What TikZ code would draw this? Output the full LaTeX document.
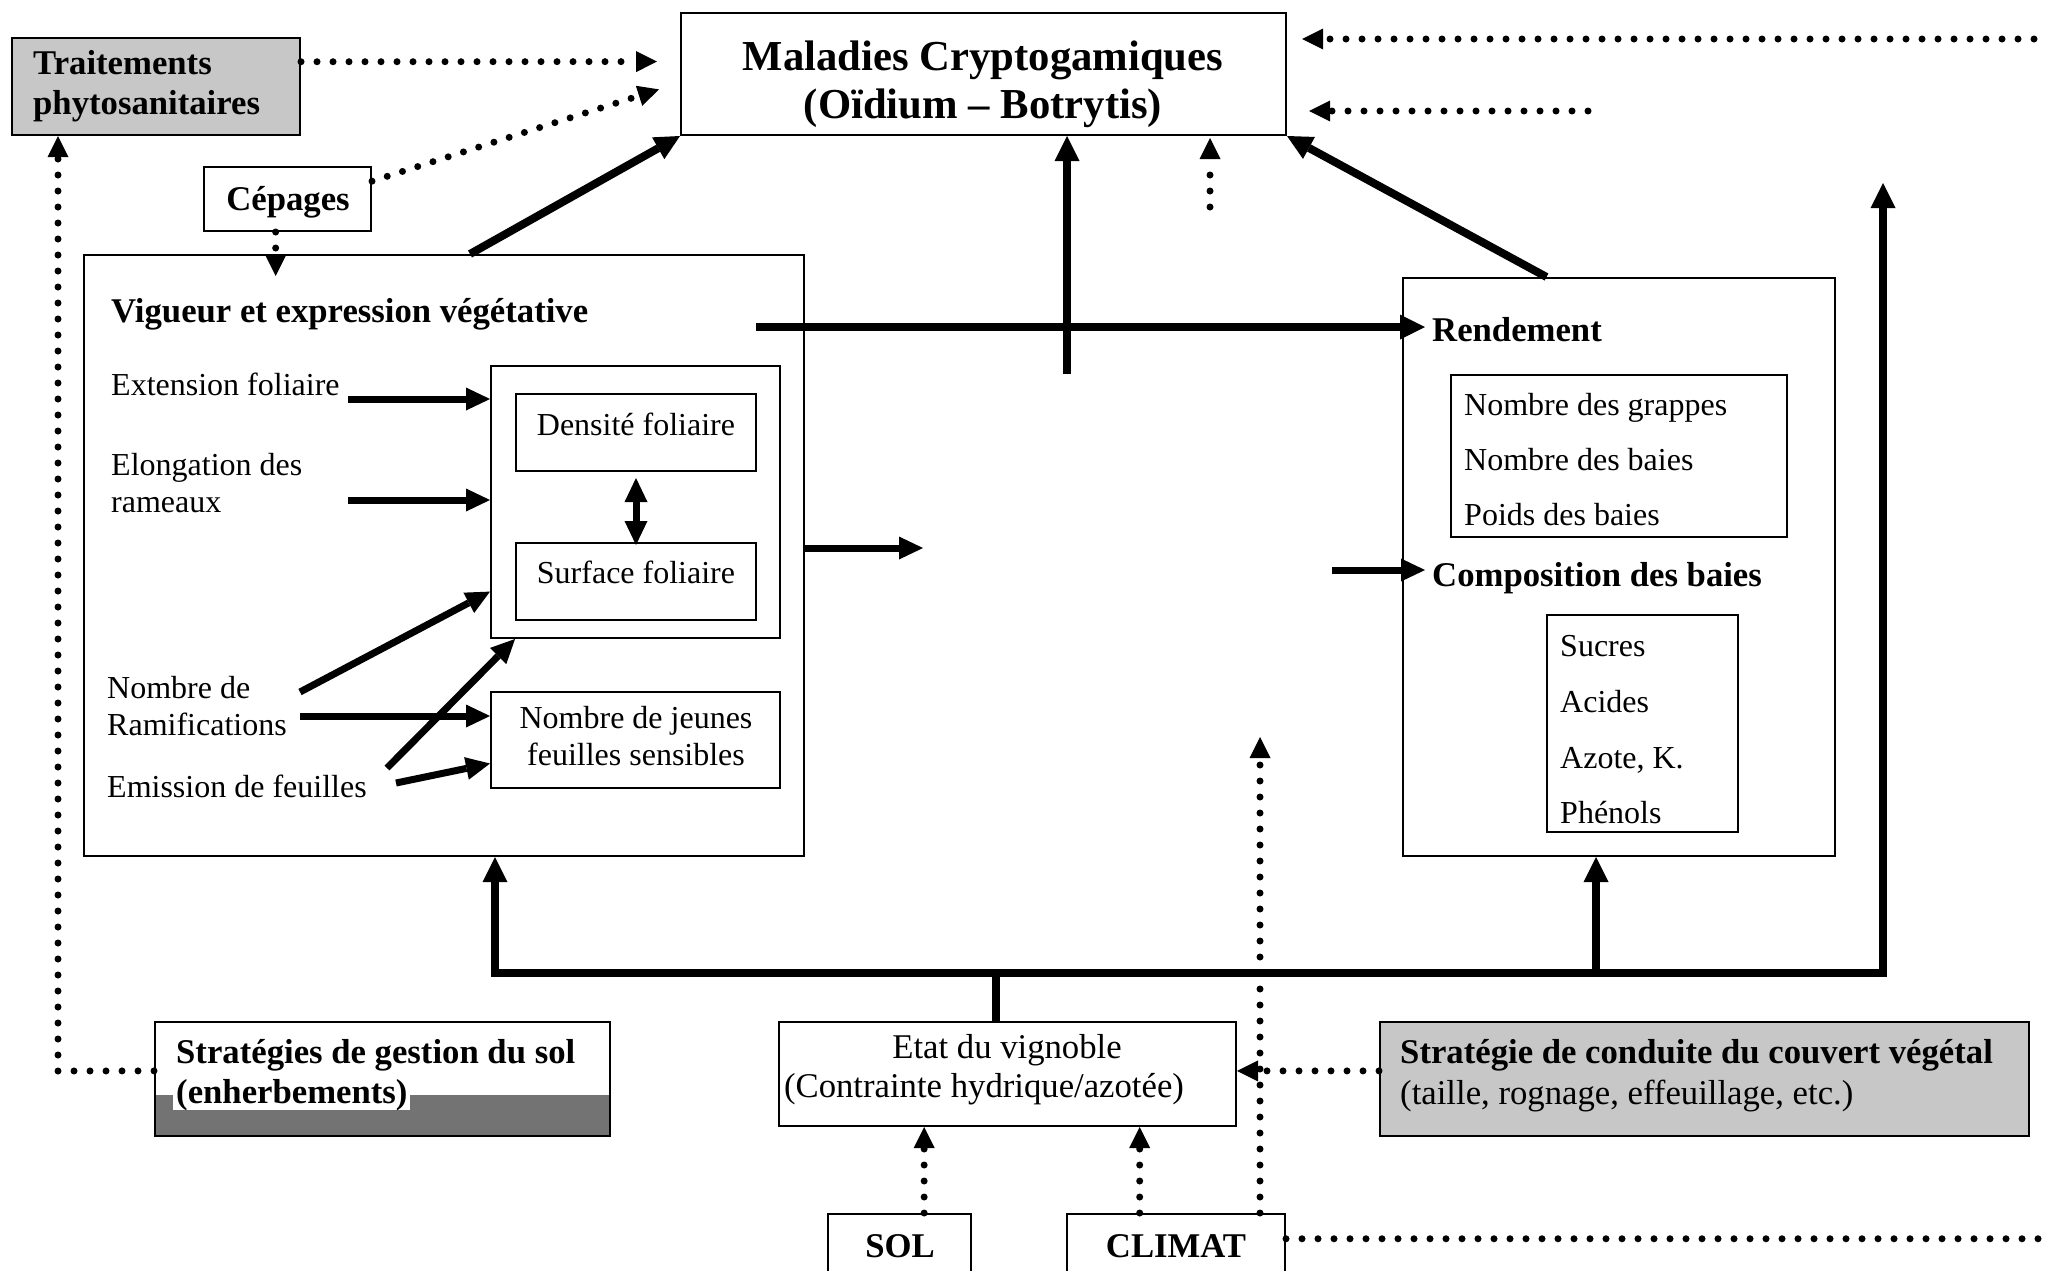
\documentclass[tikz,border=0pt]{standalone}
\usepackage{fontspec}
\setmainfont{Liberation Serif}
\usetikzlibrary{arrows.meta,calc}
\begin{document}
\begin{tikzpicture}[x=1pt,y=-1pt,
  box/.style={draw, line width=2pt, inner sep=0pt, rectangle},
  shade/.style={fill=black!22},
  nt/.style={inner sep=0pt, font=\fontsize{32}{37}\selectfont},
  ntb/.style={inner sep=0pt, font=\fontsize{34.7}{39}\selectfont},
  bt/.style={inner sep=0pt, font=\fontsize{34.7}{39}\selectfont\bfseries},
  tt/.style={inner sep=0pt, font=\fontsize{42.7}{48}\selectfont\bfseries},
  heavy/.style={line width=8pt, -{Triangle[length=25pt,width=25pt,line width=0pt]}},
  heavytwo/.style={line width=8pt, line join=miter, {Triangle[length=25pt,width=25pt,line width=0pt]}-{Triangle[length=25pt,width=25pt,line width=0pt]}},
  light/.style={line width=7pt, -{Triangle[length=24pt,width=23pt,line width=0pt]}},
  dbl/.style={line width=7pt, {Triangle[length=24pt,width=23pt,line width=0pt]}-{Triangle[length=24pt,width=23pt,line width=0pt]}},
  dots/.style={line width=7pt, line cap=round, dash pattern=on 0pt off 16pt, -{Triangle[length=21pt,width=21pt,line width=0pt]}},
]
\clip (0,0) rectangle (2045,1270);
% ---------- boxes
\node[box,shade,minimum width=288pt,minimum height=97pt] (trait) at (156,86.5) {};
\node[box,minimum width=605pt,minimum height=122pt] (mal) at (983.5,74) {};
\node[box,minimum width=167pt,minimum height=64pt] (cep) at (287.5,199) {};
\node[box,minimum width=720pt,minimum height=601pt] (vig) at (444,555.5) {};
\node[box,minimum width=289pt,minimum height=272pt] (inner) at (635.5,502) {};
\node[box,minimum width=240pt,minimum height=77pt] (dens) at (636,432.5) {};
\node[box,minimum width=240pt,minimum height=77pt] (surf) at (636,581.5) {};
\node[box,minimum width=289pt,minimum height=96pt] (jeun) at (635.5,740) {};
\node[box,minimum width=432pt,minimum height=578pt] (rend) at (1619,567) {};
\node[box,minimum width=336pt,minimum height=162pt] (rlist) at (1619,456) {};
\node[box,minimum width=191pt,minimum height=217pt] (slist) at (1642.5,723.5) {};
\node[box,minimum width=457pt,minimum height=104pt] (etat) at (1007.5,1074) {};
\node[box,minimum width=143pt,minimum height=76pt] (sol) at (899.5,1252) {};
\node[box,minimum width=218pt,minimum height=76pt] (clim) at (1176,1252) {};
\fill[black!55] (155,1095) rectangle (610,1136);
\node[box,minimum width=455pt,minimum height=114pt] (gsol) at (382.5,1079) {};
\node[box,shade,minimum width=649pt,minimum height=114pt] (couv) at (1704.5,1079) {};
% ---------- texts
\node[bt,anchor=base west] (trait1) at (33,74) {Traitements};
\node[bt,anchor=base west] (trait2) at (33,114) {phytosanitaires};
\node[tt,anchor=base] (mal1) at (983,70) {Maladies Cryptogamiques};
\node[tt,anchor=base] (mal2) at (983,118) {(Oïdium – Botrytis)};
\node[bt,anchor=base] (cept) at (288,210) {Cépages};
\node[bt,anchor=base west] (vigt) at (111,322) {Vigueur et expression végétative};
\node[nt,anchor=base west] (ext) at (111,395) {Extension foliaire};
\node[nt,anchor=base west] (elo1) at (111,475) {Elongation des};
\node[nt,anchor=base west] (elo2) at (111,512) {rameaux};
\node[nt,anchor=base west] (ram1) at (107,698) {Nombre de};
\node[nt,anchor=base west] (ram2) at (107,735) {Ramifications};
\node[nt,anchor=base west] (emi) at (107,797) {Emission de feuilles};
\node[nt,anchor=base] (denst) at (636,435) {Densité foliaire};
\node[nt,anchor=base] (surft) at (636,583) {Surface foliaire};
\node[nt,anchor=base] (jeun1) at (636,728) {Nombre de jeunes};
\node[nt,anchor=base] (jeun2) at (636,765) {feuilles sensibles};
\node[bt,anchor=base west] (rendt) at (1432,341) {Rendement};
\node[nt,anchor=base west] (rl1) at (1464,415) {Nombre des grappes};
\node[nt,anchor=base west] (rl2) at (1464,470) {Nombre des baies};
\node[nt,anchor=base west] (rl3) at (1464,525) {Poids des baies};
\node[bt,anchor=base west] (compt) at (1432,586) {Composition des baies};
\node[nt,anchor=base west] (sl1) at (1560,656) {Sucres};
\node[nt,anchor=base west] (sl2) at (1560,712) {Acides};
\node[nt,anchor=base west] (sl3) at (1560,768) {Azote, K.};
\node[nt,anchor=base west] (sl4) at (1560,823) {Phénols};
\node[ntb,anchor=base] (etat1) at (1007,1058) {Etat du vignoble};
\node[ntb,anchor=base] (etat2) at (984,1097) {(Contrainte hydrique/azotée)};
\node[bt,anchor=base] (solt) at (900,1257) {SOL};
\node[bt,anchor=base] (climt) at (1176,1257) {CLIMAT};
\node[bt,anchor=base west] (gsol1) at (176,1063) {Stratégies de gestion du sol};
\node[bt,anchor=base west,fill=white,inner xsep=3pt] (gsol2) at (173,1103) {(enherbements)};
\node[bt,anchor=base west] (couv1) at (1400,1063) {Stratégie de conduite du couvert végétal};
\node[ntb,anchor=base west] (couv2) at (1400,1104) {(taille, rognage, effeuillage, etc.)};
% ---------- named free ends
\coordinate (vst) at (1067,374);
\coordinate (dst) at (1210,207);
\coordinate (rt1) at (2050,39);
\coordinate (rt2) at (1588,111);
\coordinate (hst) at (756,327);
\coordinate (e1) at (348,399);
\coordinate (e2) at (348,500);
\coordinate (e3) at (300,692);
\coordinate (e4) at (300,716);
\coordinate (e5) at (396,783);
\coordinate (e6) at (387,768);
\coordinate (e7) at (923,548);
\coordinate (e8) at (1332,570);
\coordinate (busL) at (495,973);
\coordinate (busR) at (1883,973);
\coordinate (topR) at (1883,183);
\coordinate (busM) at (1596,973);
\coordinate (busE) at (996,973);
\coordinate (lc) at (58,1071);
\coordinate (cup) at (1260,737);
% ---------- connectors (top)
\draw[dots,shorten >=23pt] ($(trait.north east)!0.25!(trait.south east)$) -- ($(mal.north west)!0.4!(mal.south west)$);
\draw[dots,shorten >=22pt] ($(cep.north east)!0.23!(cep.south east)$) -- ($(mal.north west)!0.57!(mal.south west)$);
\draw[dots,shorten >=-22pt] ($(cep.south west)!0.43!(cep.south east)$) coordinate (cd) -- (cd |- vig.north);
\draw[heavy] ($(vig.north west)!0.536!(vig.north east)$) -- (mal.south west);
\draw[heavy] (vst) -- (vst |- mal.south);
\draw[dots,shorten >=2pt] (dst) -- (dst |- mal.south);
\draw[heavy] ($(rend.north west)!0.333!(rend.north east)$) -- (mal.south east);
\draw[dots,shorten >=15pt] (rt1) -- (rt1 -| mal.east);
\draw[dots,shorten >=22pt] (rt2) -- (rt2 -| mal.east);
\draw[heavy,shorten >=-23pt] (hst) -- (hst -| rend.west);
% ---------- inside Vigueur
\draw[light] (e1) -- (e1 -| inner.west);
\draw[light] (e2) -- (e2 -| inner.west);
\draw[light] (e3) -- ($(inner.north west)!0.827!(inner.south west)$);
\draw[light] (e4) -- (e4 -| jeun.west);
\draw[light] (e5) -- ($(jeun.north west)!0.74!(jeun.south west)$);
\draw[light] (e6) -- ($(inner.south west)!0.086!(inner.south east)$);
\draw[dbl,shorten <=6pt,shorten >=-3pt] (dens.south) -- (surf.north);
\draw[light] (e7 -| vig.east) -- (e7);
\draw[light,shorten >=-23pt] (e8) -- (e8 -| rend.west);
% ---------- bus
\draw[heavytwo] (busL |- vig.south) -- (busL) -- (busR) -- (topR);
\draw[heavy] (busM) -- (busM |- rend.south);
\draw[line width=8pt] (busE) -- (busE |- etat.north);
% ---------- bottom dotted
\draw[dots] ($(gsol.north west)!0.43!(gsol.south west)$) -- (lc) -- (lc |- trait.south);
\draw[dots] ($(couv.north west)!0.43!(couv.south west)$) coordinate (cv) -- (cv -| etat.east);
\draw[dots] ($(sol.north west)!0.67!(sol.north east)$) coordinate (sv) -- (sv |- etat.south);
\draw[dots] ($(clim.north west)!0.335!(clim.north east)$) coordinate (cw) -- (cw |- etat.south);
\draw[dots] (cup |- clim.north) -- (cup);
\draw[dots,-] ($(clim.north east)!0.33!(clim.south east)$) coordinate (cr) -- (cr -| rt1);
\end{tikzpicture}
\end{document}
